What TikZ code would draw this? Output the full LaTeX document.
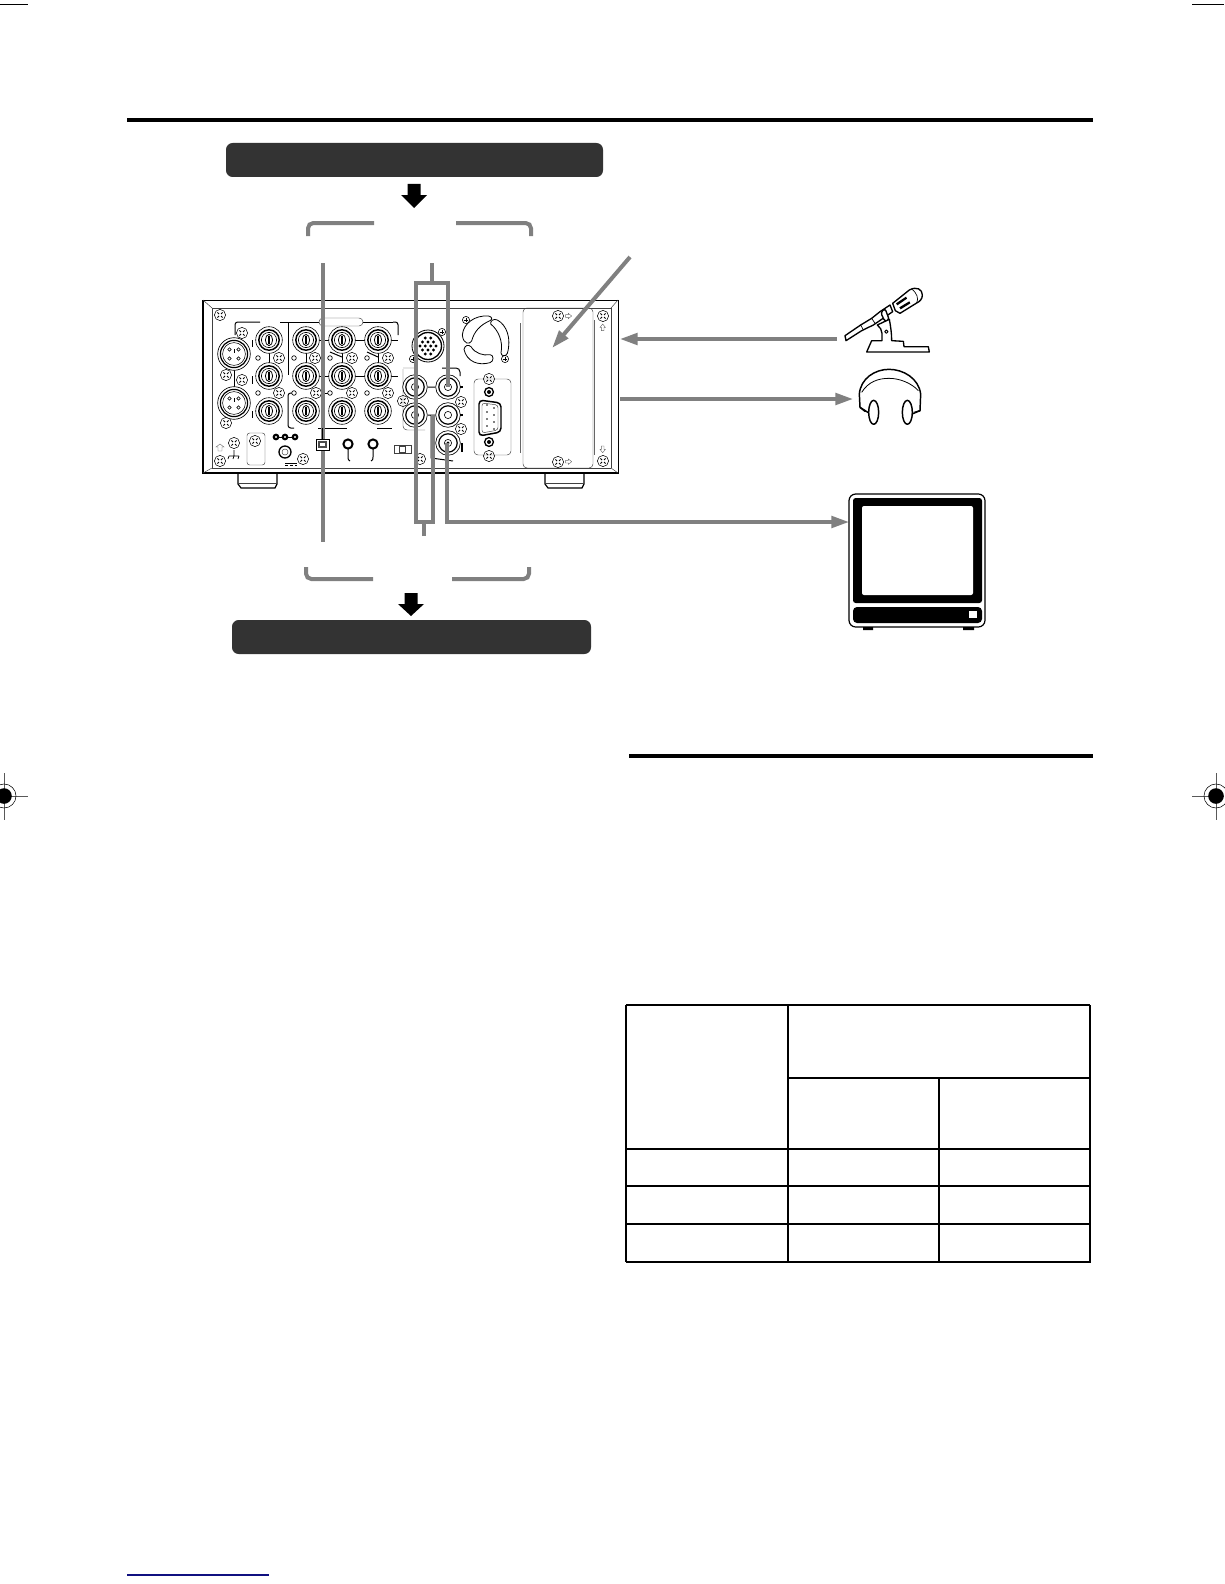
\documentclass[tikz,border=0pt]{standalone}
\usetikzlibrary{arrows.meta}
\definecolor{lead}{HTML}{808080}
\definecolor{barfill}{HTML}{333333}
\definecolor{bluerule}{HTML}{101080}
\newcommand{\scr}[2]{\draw[fill=white,line width=.4pt] (#1,#2) circle (5.6);
  \draw[line width=.7pt] (#1-2.6,#2-2.6)--(#1-1,#2-1) (#1+1,#2+1)--(#1+2.6,#2+2.6) (#1-2.6,#2+2.6)--(#1-1,#2+1) (#1+1,#2-1)--(#1+2.6,#2-2.6);}
\newcommand{\plusmark}[2]{\draw[fill=white,line width=.45pt] (#1,#2) circle (3.6);
  \draw[line width=.7pt] (#1-2.4,#2)--(#1+2.4,#2) (#1,#2-2.4)--(#1,#2+2.4);}
\newcommand{\bncbig}[2]{\draw[fill=white,line width=.45pt] (#1,#2) circle (13.3);
  \draw[line width=1.1pt] (#1,#2) circle (10.2);
  \draw[line width=.45pt] (#1,#2) circle (7.6);
  \draw[line width=.6pt] (#1,#2) ellipse (3.6 and 5.6);
  \draw[line width=.9pt] (#1,#2-3.6)--(#1,#2+3.6);}
\newcommand{\bncsmall}[2]{\draw[fill=white,line width=.5pt] (#1,#2) circle (12.3);
  \draw[line width=.9pt] (#1,#2) circle (9.2);
  \draw[line width=.45pt] (#1,#2) circle (3.6);}
\newcommand{\xlr}[2]{\draw[fill=white,line width=.5pt] (#1,#2) circle (16.3);
  \draw[line width=.9pt] (#1,#2) circle (13.6);
  \draw[line width=.4pt] (#1,#2) circle (11.4);
  \foreach \a in {45,135,225,315}{\draw[line width=.45pt] (#1,#2) ++(\a:6.4) circle (1.7);}
  \draw[line width=.45pt] (#1,#2-5)--(#1,#2-1.5);}
\newcommand{\holes}[2]{\draw[fill=white,line width=.5pt] (#1,#2) circle (2.3);}
\tikzset{
  leadline/.style={draw=lead,line width=3pt},
  leadtip/.style={leadline,-{Triangle[length=13.5pt,width=8.5pt]},shorten >=-1pt},
  bigdown/.style={fill=black},
  devline/.style={line width=.75pt},
  thinline/.style={line width=.35pt,draw=black!75},
  tinyarrow/.style={line width=.3pt,draw=black!60},
  tabline/.style={line width=.8pt},
  tabthick/.style={line width=1.5pt},
  regline/.style={line width=.4pt,draw=black!65}
}
\begin{document}
\begin{tikzpicture}[x=.75pt,y=-.75pt]
\useasboundingbox (0,0) rectangle (1224,1584);
\fill[white] (0,0) rectangle (1224,1584);

% crop and registration marks
\draw[line width=.75pt] (0,5)--(28,5) (1192,5)--(1224,5);
\draw[regline] (4,773)--(4,820) (0,796)--(28,796);
\draw[line width=.4pt] (4,796) circle (12);
\fill (4,796) circle (7.8);
\draw[regline] (1216,773)--(1216,820) (1192,796)--(1224,796);
\draw[line width=.4pt] (1216,796) circle (12);
\fill (1216,796) circle (7.8);
\draw[bluerule,line width=.9pt] (127,1575)--(269,1575);

% rules
\draw[line width=3pt] (127,120)--(1093,120);
\draw[line width=2.6pt] (629,756)--(1093,756);

% bars
\node[fill=barfill,rounded corners=5pt,inner sep=0pt,minimum width=282.75pt,minimum height=25.5pt] (topbar) at (414.5,160) {};
\node[fill=barfill,rounded corners=5pt,inner sep=0pt,minimum width=269.25pt,minimum height=25.5pt] (botbar) at (411.5,637) {};

% black arrows
\fill[bigdown] (407.5,184)--(420.5,184)--(420.5,195)--(427,195)--(414,208)--(401,195)--(407.5,195)--cycle;
\fill[bigdown] (404.5,593)--(417.5,593)--(417.5,604)--(424,604)--(411,616)--(398,604)--(404.5,604)--cycle;

% gray brackets
\draw[leadline,rounded corners=4pt] (308,236)--(308,223)--(374,223);
\draw[leadline,rounded corners=4pt] (456,223)--(531,223)--(531,236);
\draw[leadline,rounded corners=4pt] (306,567)--(306,579)--(373,579);
\draw[leadline,rounded corners=4pt] (452,579)--(529,579)--(529,567);

% device body
\draw[line width=.7pt,fill=white] (203,300)--(618,300)--(618,473)--(203,473)--cycle;
\draw[line width=1.6pt] (203,300)--(203,473)--(618,473);
\draw[thinline] (212,308)--(611,308) (212,308)--(212,468)--(611,468) (611,308)--(611,468);
\draw[thinline] (203,300)--(212,308) (618,300)--(611,308) (203,473)--(212,468) (618,473)--(611,468);
\draw[line width=.9pt] (238,473)--(238,484)--(241,488)--(275,488)--(277,484)--(277,473);
\draw[line width=.9pt] (545,473)--(545,484)--(548,488)--(582,488)--(584,484)--(584,473);
\draw[thinline] (238,483)--(277,483) (545,483)--(584,483);

% back panel group lines
\draw[devline,rounded corners=2pt] (235,335)--(235,322)--(260,322);
\draw[devline] (280,322)--(319,322) (363,322)--(393,322);
\draw[devline,rounded corners=2pt] (393,322)--(398,322)--(398,335);
\draw[devline] (288,322)--(288,375);
\draw[devline,rounded corners=2pt] (294,393)--(288,393)--(288,428)--(294,428);
\draw[devline] (322,393)--(322,428) (318,428)--(347,428) (377,428)--(392,428) (322,393)--(330,393);
\draw[devline] (269,353)--(269,363) (306,353)--(306,363) (342,353)--(342,363) (378,353)--(378,363);
\draw[devline] (319,340)--(329,340) (355,340)--(365,340) (319,376)--(329,376) (355,376)--(365,376);
\draw[devline] (330,352)--(342,357) (367,352)--(378,357);
\draw[devline] (252,340)--(252,347) (252,376)--(252,384) (252,411)--(252,418) (391,340)--(398,340) (391,376)--(398,376);
\draw[devline] (234,370)--(234,387);
\draw[thinline,fill=white,rounded corners=3pt] (319,318) rectangle (363,326);

\foreach \cx in {269,306,342,378}{\foreach \cy in {340,376,411}{\bncbig{\cx}{\cy}}}
\xlr{234}{354}\xlr{234}{403}
\foreach \cx/\cy in {258/358,294/358,330/358,367/358,258/393,294/393,330/393,367/393}{\holes{\cx}{\cy}}
\foreach \cx/\cy in {220/315,242/333,279/358,315/358,352/358,388/358,226/375,242/380,279/393,316/393,352/393,388/393,226/423,403/401,234/443,220/461,303/459,420/459,461/402,461/429,558/316,558/462,603/316,603/461,489/379,489/456}{\scr{\cx}{\cy}}

% lower row
\draw[thinline,rounded corners=2pt] (247,433)--(265,433)--(265,465)--(247,465)--cycle;
\scr{255}{441}
\draw[devline] (273,437)--(298,437);
\foreach \cx in {276,285,295}{\fill (\cx,437) circle (3.4);\fill[white] (\cx,437) circle (1.1);}
\draw[line width=1pt,fill=white] (285,452) circle (6);
\draw[thinline] (285,452) circle (3);
\draw[line width=.6pt] (285,463)--(297,463) (285,465)--(288,465) (290,465)--(293,465) (295,465)--(297,465);
\draw[line width=.5pt] (234,450)--(234,456) (229,456)--(239,456) (229,456)--(228,459) (234,456)--(233,459) (239,456)--(238,459);
\draw[tinyarrow] (218,451)--(222,451)--(222,447)--(224,447)--(220,444)--(216,447)--(218,447)--cycle;

% lead line through device (under connector)
\coordinate (ltop) at (323,263);
\coordinate (lbot) at (323,542);
\draw[leadline] (ltop)--(lbot);
\draw[line width=.7pt,fill=white] (316,439) rectangle (329,450);
\draw[line width=1pt,draw=black!70] (319,442) rectangle (326,447);
\draw[devline] (322,428)--(322,439);

\draw[line width=1.5pt,fill=white] (348,444) circle (4.6);
\draw[devline] (348,449)--(348,457) to[out=270,in=180] (350,461);
\draw[line width=1.5pt,fill=white] (373,444) circle (4.6);
\draw[devline] (373,449)--(373,457) to[out=270,in=0] (371,461);
\draw[thinline] (394,445) rectangle (411,453) (399,446) rectangle (405,452);

% multi connector, fan
\draw[line width=.6pt,fill=white] (428,346) circle (16);
\draw[line width=1pt] (428,346) circle (13.5);
\foreach \dx/\dy in {-2.7/-8,2.7/-8,-5.5/-4,0/-4,5.5/-4,-8/0,-2.7/0,2.7/0,8/0,-5.5/4,0/4,5.5/4,-2.7/8,2.7/8}{\fill (428+\dx,346+\dy) circle (1.6);}
\plusmark{442}{332}\plusmark{413}{359}\plusmark{466}{320}\plusmark{505}{359}

\begin{scope}[shift={(400,280)},x=.25pt,y=-.25pt,line width=.6pt]
\draw (187,165) .. controls (190,130) and (225,105) .. (265,108) .. controls (277,110) and (278,118) .. (270,122) .. controls (240,135) and (222,155) .. (215,183) .. controls (210,193) and (190,195) .. (187,165) -- cycle;
\draw (272,132) .. controls (270,122) and (282,115) .. (292,120) .. controls (320,135) and (335,175) .. (322,220) .. controls (318,230) and (303,230) .. (303,218) .. controls (310,185) and (295,150) .. (272,132) -- cycle;
\draw (192,208) .. controls (195,195) and (205,193) .. (213,200) .. controls (225,220) and (250,228) .. (270,224) .. controls (282,224) and (282,245) .. (270,248) .. controls (235,258) and (200,245) .. (192,208) -- cycle;
% small arrows by screws
\draw[tinyarrow] (497,104)--(505,104)--(505,100)--(515,108)--(505,116)--(505,112)--(497,112)--cycle;
\draw[tinyarrow] (497,541)--(505,541)--(505,537)--(515,545)--(505,553)--(505,549)--(497,549)--cycle;
\draw[tinyarrow] (604,152)--(604,142)--(600,142)--(608,132)--(616,142)--(612,142)--(612,152)--cycle;
\draw[tinyarrow] (604,498)--(604,508)--(600,508)--(608,518)--(616,508)--(612,508)--(612,498)--cycle;
\end{scope}

% D-sub panel
\draw[thinline,rounded corners=3pt] (474,379) rectangle (511,455);
\draw[line width=1pt,fill=white] (489,392) circle (4.4);
\fill (489,392) circle (2);
\draw[line width=1pt,fill=white] (489,442) circle (4.4);
\fill (489,442) circle (2);
\draw[line width=1.1pt,fill=white,rounded corners=3pt] (479,400)--(501,403)--(501,432)--(479,436)--cycle;
\draw[thinline,rounded corners=2pt] (482,403)--(498,405)--(498,430)--(482,433)--cycle;
\foreach \dy in {405,412,419,426}{\fill (487,\dy) circle (.8);\fill (494,\dy+3) circle (.8);}

% option slot
\draw[thinline,rounded corners=3pt] (523,308)--(593,308)--(593,468)--(523,468)--cycle;
\draw[thinline,draw=black!60] (520,323)--(520,453) (594,320)--(594,455);

% right BNC group
\draw[thinline,rounded corners=3pt] (403,369)--(403,430)--(425,430) (415,368)--(403,368);
\draw[devline,rounded corners=3pt] (442,368)--(460,368)--(460,376);
\bncsmall{415}{387}\bncsmall{448}{387}\bncsmall{415}{415}\bncsmall{448}{415}\bncsmall{448}{443}
\draw[devline] (428,387)--(435,387) (428,415)--(435,415) (431,415)--(431,458)--(453,461);
\draw[line width=1pt] (460,387)--(463,387) (460,415)--(463,415);
\draw[line width=1pt] (461,444)--(462,444)--(462,452);
\fill (448,443) circle (1.7);

% gray leads on device
\coordinate (gtop) at (432,263);
\coordinate (gtopj) at (432,283);
\coordinate (gbot) at (424,536);
\coordinate (gbotj) at (424,522);
\coordinate (g1) at (416,415);
\coordinate (g2) at (448,387);
\coordinate (g3) at (433,415);
\draw[leadline] (gtop)--(gtopj);
\draw[leadline] (g1)--(416,283)--(448,283)--(g2);
\draw[leadline] (g1)--(416,522)--(433,522)--(g3);
\draw[leadline] (gbot)--(gbotj);
\coordinate (mfrom) at (447,443);
\coordinate (mcorner) at (447,522);
\coordinate (mtip) at (848,522);
\draw[leadtip] (mfrom)--(mcorner)--(mtip);
\coordinate (micfrom) at (837,339);
\coordinate (mictip) at (621,339);
\draw[leadtip] (micfrom)--(mictip);
\coordinate (hpfrom) at (620,399);
\coordinate (hptip) at (852,399);
\draw[leadtip] (hpfrom)--(hptip);
\coordinate (slotfrom) at (630,257);
\coordinate (slottip) at (553,347);
\draw[leadtip] (slotfrom)--(slottip);

% mic and headphones
\begin{scope}[shift={(820,270)},x=.25pt,y=-.25pt,line width=1pt,line join=round]
\draw[fill=white] (75,197)--(78,212)--(125,182)--(160,165)--(182,150)--(218,125)--(210,105)--(180,125)--(155,145)--(122,165)--cycle;
\draw[line width=.5pt] (122,165)--(130,180) (155,145)--(165,160);
\draw[fill=white,rounded corners=2pt] (182,128)--(195,115)--(208,150)--(195,155)--cycle;
\draw[fill=white] (218,100)--(268,60) .. controls (290,48) and (307,58) .. (307,75) .. controls (307,87) and (300,94) .. (290,99) -- (240,130) -- (226,122) -- cycle;
\draw[line width=.5pt] (277,58) .. controls (290,70) and (297,85) .. (290,99);
\fill (228,100)--(258,80)--(261,86)--(232,106)--cycle;
\fill (238,112)--(268,94)--(271,100)--(242,118)--cycle;
\draw[fill=white] (140,246)--(155,212)--(186,212)--(186,190) .. controls (186,180) and (180,172) .. (172,165) -- (208,148) .. controls (212,170) and (215,190) .. (215,212) -- (250,214)--(252,230)--(325,230)--(328,246)--cycle;
\draw[line width=.7pt] (199,185) circle (5);
\draw[line width=1.1pt,fill=white] (118,372) .. controls (122,325) and (165,298) .. (207,298) .. controls (250,298) and (296,325) .. (302,372) -- (300,422) -- (275,430) -- (150,430) -- (140,428) -- (120,412) -- cycle;
\fill[white] (124,425) rectangle (298,470);
\draw[line width=1.1pt] (120,412)--(145,428) (300,422)--(276,432);
\draw[line width=.6pt] (125,367) .. controls (145,335) and (175,325) .. (207,325) .. controls (240,325) and (275,340) .. (295,362);
\draw[line width=1.1pt,fill=white] (161,427) ellipse (15 and 36);
\draw[line width=1.1pt,fill=white] (262,427) ellipse (15 and 36);
\end{scope}

% monitor
\draw[line width=.9pt,fill=white,rounded corners=5pt] (849,494) rectangle (985,627);
\fill[rounded corners=2pt] (853,498) rectangle (982,603);
\fill[white,rounded corners=1.5pt] (862,506) rectangle (973,595);
\fill[rounded corners=3pt] (853,607) rectangle (982,623);
\fill[white] (969,611) rectangle (977,618);
\fill (863,627) rectangle (873,630) (963,627) rectangle (974,630);

% table
\draw[tabline] (626,1005)--(1090,1005) (788,1078)--(1090,1078) (626,1186)--(1090,1186) (626,1224)--(1090,1224);
\draw[tabline] (626,1005)--(626,1262) (788,1005)--(788,1262) (939,1078)--(939,1262) (1090,1005)--(1090,1262);
\draw[tabthick] (626,1149)--(1090,1149) (625.5,1262)--(1090.5,1262);
\end{tikzpicture}
\end{document}
